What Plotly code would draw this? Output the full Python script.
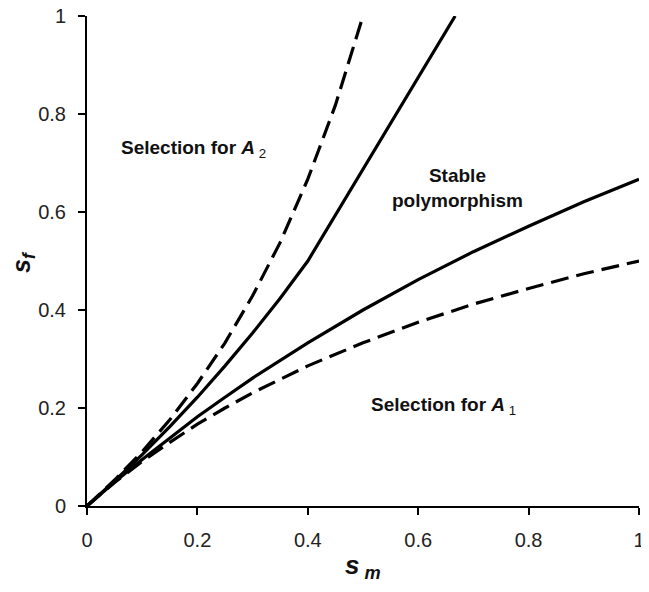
import plotly.graph_objects as go

# Data
sm_upper_solid = [0, 0.05, 0.1, 0.15, 0.2, 0.25, 0.3, 0.35, 0.4, 0.667]
sf_upper_solid = [0, 0.051, 0.105, 0.162, 0.222, 0.286, 0.353, 0.424, 0.5, 1.0]

sm_lower_solid = [0, 0.05, 0.1, 0.15, 0.2, 0.25, 0.3, 0.4, 0.5, 0.6, 0.7, 0.8, 0.9, 1.0]
sf_lower_solid = [0, 0.049, 0.095, 0.139, 0.182, 0.222, 0.261, 0.333, 0.4, 0.462, 0.519, 0.571, 0.621, 0.667]

sm_upper_dash = [0, 0.05, 0.1, 0.15, 0.2, 0.25, 0.3, 0.35, 0.4, 0.45, 0.5]
sf_upper_dash = [0, 0.053, 0.111, 0.176, 0.25, 0.333, 0.429, 0.538, 0.667, 0.818, 1.0]

sm_lower_dash = [0, 0.05, 0.1, 0.15, 0.2, 0.25, 0.3, 0.4, 0.5, 0.6, 0.7, 0.8, 0.9, 1.0]
sf_lower_dash = [0, 0.048, 0.091, 0.13, 0.167, 0.2, 0.231, 0.286, 0.333, 0.375, 0.412, 0.444, 0.474, 0.5]

tick_vals = [0, 0.2, 0.4, 0.6, 0.8, 1]
tick_text = ["0", "0.2", "0.4", "0.6", "0.8", "1"]

FONT = "Liberation Sans, Arial, sans-serif"

fig = go.Figure()
dash = "18px,8px"
fig.add_trace(go.Scatter(x=sm_upper_dash, y=sf_upper_dash, mode="lines",
                         line=dict(color="black", width=3.2, dash=dash)))
fig.add_trace(go.Scatter(x=sm_lower_dash, y=sf_lower_dash, mode="lines",
                         line=dict(color="black", width=3.2, dash=dash)))
fig.add_trace(go.Scatter(x=sm_upper_solid, y=sf_upper_solid, mode="lines",
                         line=dict(color="black", width=3.2)))
fig.add_trace(go.Scatter(x=sm_lower_solid, y=sf_lower_solid, mode="lines",
                         line=dict(color="black", width=3.2)))

axis_common = dict(
    range=[0, 1], tickvals=tick_vals, ticktext=tick_text,
    showgrid=False, zeroline=False, showline=True, linecolor="black", linewidth=2,
    ticks="outside", ticklen=7, tickwidth=2, tickcolor="black",
    ticklabeloverflow="allow", automargin=False,
    tickfont=dict(family=FONT, size=20, color="#222"),
)
fig.update_xaxes(**axis_common, ticklabelstandoff=8)
fig.update_yaxes(**axis_common, ticklabelstandoff=8)

fig.add_annotation(x=0.058, y=0.728, xref="x", yref="y", xanchor="left", yanchor="middle",
                   text="<b>Selection for <i>A</i></b><sub>\u00a02</sub>", showarrow=False,
                   font=dict(family=FONT, size=19, color="#111"))
fig.add_annotation(x=0.672, y=0.65, xref="x", yref="y", xanchor="center", yanchor="middle",
                   text="<b>Stable<br>polymorphism</b>", showarrow=False,
                   font=dict(family=FONT, size=19, color="#111"))
fig.add_annotation(x=0.51, y=0.205, xref="x", yref="y", xanchor="left", yanchor="middle",
                   text="<b>Selection for <i>A</i></b><sub>\u00a01</sub>", showarrow=False,
                   font=dict(family=FONT, size=19, color="#111"))

fig.add_annotation(x=0.5, y=-0.124, xref="paper", yref="paper", xanchor="center", yanchor="middle",
                   text="<b><i>s</i></b><sub><b><i>\u00a0m</i></b></sub>", showarrow=False,
                   font=dict(family=FONT, size=26, color="#111"))
fig.add_annotation(x=-0.116, y=0.498, xref="paper", yref="paper", xanchor="center", yanchor="middle",
                   text="<b><i>s</i></b><sub><b><i>f</i></b></sub>", showarrow=False, textangle=-90,
                   font=dict(family=FONT, size=25, color="#111"))

fig.update_layout(
    width=641, height=584,
    margin=dict(l=79, r=10, t=8, b=86, autoexpand=False),
    plot_bgcolor="white", paper_bgcolor="white",
    showlegend=False,
)

fig.write_html("out.html")
